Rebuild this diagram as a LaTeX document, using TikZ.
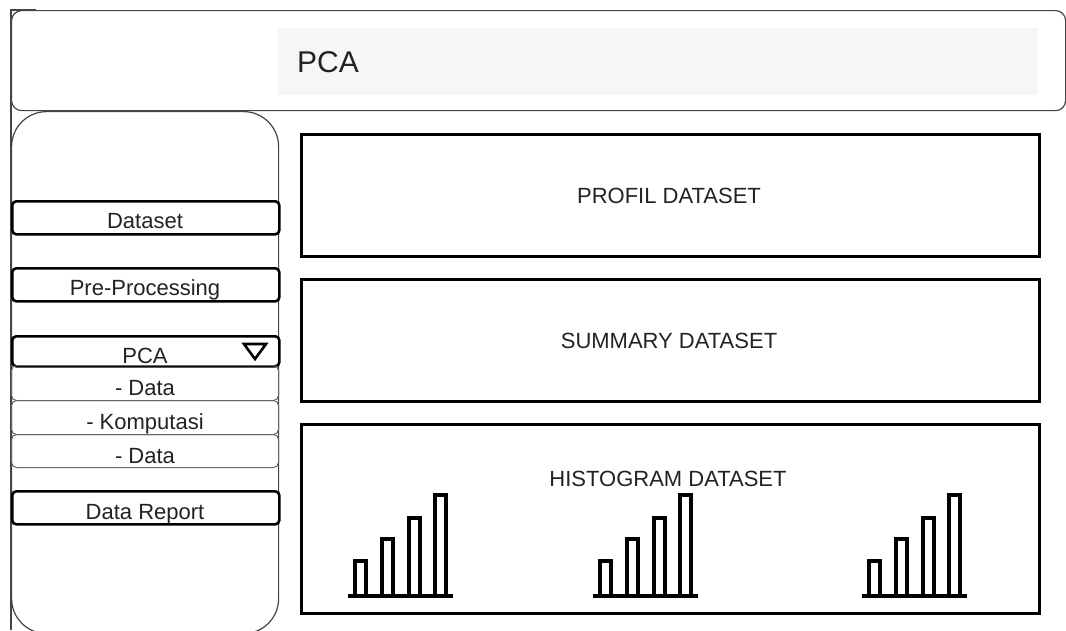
\documentclass[tikz,border=0pt]{standalone}
\usepackage{fontspec}
\setmainfont{Liberation Sans}
\definecolor{fieldgray}{HTML}{F5F6F8}
\definecolor{ink}{HTML}{222222}
\definecolor{edgegray}{HTML}{444444}
\definecolor{subgray}{HTML}{666666}
\begin{document}
\begin{tikzpicture}[x=1pt,y=-1pt,
  frame/.style={draw=edgegray, line width=1.2pt, inner sep=0pt, anchor=north west},
  menubtn/.style={draw=black, line width=2.6pt, rounded corners=4pt, minimum width=267pt, inner sep=0pt, anchor=north west},
  subitem/.style={draw=subgray, line width=1pt, rounded corners=5pt, minimum width=267pt, inner sep=0pt, anchor=north west},
  panel/.style={draw=black, line width=3pt, minimum width=738pt, inner sep=0pt, anchor=north west},
  lbl/.style={text=ink, font=\fontsize{22}{25}\selectfont, inner sep=0pt, anchor=base},
  barchart/.pic={
    \draw[line width=4.5pt] (0,0) -- (105,0);
    \foreach \x/\t in {5/559, 31.5/537, 58.5/516, 85/493}
      \draw[line width=4pt, line join=miter]
        (\x+2,0) -- (\x+2,\t-596+2) -- (\x+13,\t-596+2) -- (\x+13,0);
  }]
\useasboundingbox (0,0) rectangle (1066,630);

% top bar with the title field
\node[frame, rounded corners=10pt, minimum width=1054pt, minimum height=100pt] (header) at (11,10) {};
\draw[draw=edgegray, line width=1.2pt] (header.north west |- 0,630) -- (header.north west) -- ++(25,0);
\node[fill=fieldgray, inner sep=0pt, anchor=north west, minimum width=760pt, minimum height=67pt] (field) at (278,28) {};
\node[text=ink, font=\fontsize{30}{34}\selectfont, inner sep=0pt, anchor=base west] (title) at (297,72) {PCA};

% side menu
\node[frame, rounded corners=35pt, minimum width=267pt, minimum height=522pt] (sidebar) at (11,111) {};

\node[menubtn, minimum height=33pt] (bdataset) at (11,200) {};
\node[lbl] (tdataset) at (145,228) {Dataset};

\node[menubtn, minimum height=33pt] (bprep) at (11,267) {};
\node[lbl] (tprep) at (145,295) {Pre-Processing};

\node[menubtn, minimum height=30pt] (bpca) at (11,335) {};
\node[lbl] (tpca) at (145,363) {PCA};
\draw[line width=2.6pt, line join=miter] (244,344) -- (266,344) -- (255,359) -- cycle;

\node[subitem, minimum height=35pt] (bsub1) at (11,365) {};
\node[lbl] (tsub1) at (145,395) {- Data};
\node[subitem, minimum height=34pt] (bsub2) at (11,400) {};
\node[lbl] (tsub2) at (145,429) {- Komputasi};
\node[subitem, minimum height=33pt] (bsub3) at (11,434) {};
\node[lbl] (tsub3) at (145,463) {- Data};

\node[menubtn, minimum height=33pt] (breport) at (11,490) {};
\node[lbl] (treport) at (145,519) {Data Report};

% content panels
\node[panel, minimum height=122pt] (profil) at (300,133) {};
\node[lbl] (tprofil) at (669,203) {PROFIL DATASET};

\node[panel, minimum height=122pt] (summary) at (300,278) {};
\node[lbl] (tsummary) at (669,348) {SUMMARY DATASET};

\node[panel, minimum height=189pt] (histo) at (300,423) {};
\node[lbl] (thisto) at (668,486) {HISTOGRAM DATASET};

\pic at (348,596) {barchart};
\pic at (593,596) {barchart};
\pic at (862,596) {barchart};
\end{tikzpicture}
\end{document}
